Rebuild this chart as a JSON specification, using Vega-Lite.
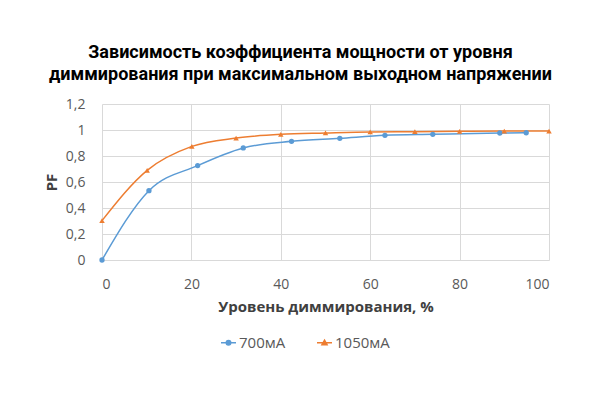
{
  "$schema": "https://vega.github.io/schema/vega-lite/v6.json",
  "width": 447,
  "height": 156,
  "autosize": {"type": "none"},
  "padding": {"left": 102, "top": 104, "right": 51, "bottom": 140},
  "background": "white",
  "title": {
    "text": ["Зависимость коэффициента мощности от уровня", "диммирования при максимальном выходном напряжении"],
    "font": "Roboto",
    "fontSize": 18,
    "fontWeight": "bold",
    "color": "#000000",
    "anchor": "middle",
    "dx": -25,
    "lineHeight": 22,
    "offset": 13
  },
  "config": {
    "view": {"stroke": null},
    "axis": {
      "labelFont": "Open Sans",
      "labelFontSize": 14,
      "labelColor": "#595959",
      "titleFont": "Open Sans",
      "titleFontSize": 15,
      "titleFontWeight": "bold",
      "titleColor": "#404040",
      "gridColor": "#D9D9D9",
      "gridWidth": 1,
      "domain": false,
      "ticks": false,
      "tickSize": 0
    },
    "legend": {
      "orient": "none",
      "direction": "horizontal",
      "legendX": 118,
      "legendY": 230,
      "labelFont": "Open Sans",
      "labelFontSize": 15,
      "labelColor": "#595959",
      "columnPadding": 28,
      "labelOffset": 2,
      "symbolSize": 225
    }
  },
  "data": {
    "values": [
      {"level": 0, "pf": 0.0, "series": "700мА"},
      {"level": 10.5, "pf": 0.533, "series": "700мА"},
      {"level": 21.4, "pf": 0.726, "series": "700мА"},
      {"level": 31.6, "pf": 0.862, "series": "700мА"},
      {"level": 42.4, "pf": 0.913, "series": "700мА"},
      {"level": 53.2, "pf": 0.936, "series": "700мА"},
      {"level": 63.3, "pf": 0.959, "series": "700мА"},
      {"level": 74, "pf": 0.967, "series": "700мА"},
      {"level": 89, "pf": 0.977, "series": "700мА"},
      {"level": 94.9, "pf": 0.979, "series": "700мА"},
      {"level": 0, "pf": 0.303, "series": "1050мА"},
      {"level": 10.1, "pf": 0.69, "series": "1050мА"},
      {"level": 20.1, "pf": 0.874, "series": "1050мА"},
      {"level": 30, "pf": 0.938, "series": "1050мА"},
      {"level": 40, "pf": 0.967, "series": "1050мА"},
      {"level": 50, "pf": 0.977, "series": "1050мА"},
      {"level": 60, "pf": 0.985, "series": "1050мА"},
      {"level": 70, "pf": 0.987, "series": "1050мА"},
      {"level": 80, "pf": 0.99, "series": "1050мА"},
      {"level": 90, "pf": 0.992, "series": "1050мА"},
      {"level": 100, "pf": 0.992, "series": "1050мА"}
    ]
  },
  "encoding": {
    "x": {
      "field": "level",
      "type": "quantitative",
      "scale": {"domain": [0, 100], "nice": false, "zero": false},
      "axis": {
        "values": [0, 20, 40, 60, 80, 100],
        "title": "Уровень диммирования, %",
        "labelPadding": 17,
        "titlePadding": 8
      }
    },
    "y": {
      "field": "pf",
      "type": "quantitative",
      "scale": {"domain": [0, 1.2], "nice": false},
      "axis": {
        "values": [0, 0.2, 0.4, 0.6, 0.8, 1, 1.2],
        "labelExpr": "replace(format(datum.value, '.1~f'), '.', ',')",
        "title": "PF",
        "labelPadding": 17,
        "titlePadding": 6
      }
    },
    "color": {
      "field": "series",
      "type": "nominal",
      "sort": ["700мА", "1050мА"],
      "scale": {"domain": ["700мА", "1050мА"], "range": ["#5B9BD5", "#ED7D31"]},
      "legend": {
        "title": null,
        "encode": {
          "symbols": {
            "update": {
              "shape": {"signal": "datum.value === '700мА' ? 'M-1,0H1M-0.3,0A0.3,0.3,0,1,0,0.3,0A0.3,0.3,0,1,0,-0.3,0Z' : 'M-1,0H1M0,-0.34L0.34,0.26L-0.34,0.26Z'"},
              "stroke": {"signal": "scale('color', datum.value)"},
              "fill": {"signal": "scale('color', datum.value)"},
              "strokeWidth": {"value": 1.5},
              "size": {"value": 225},
              "opacity": {"value": 1}
            }
          }
        }
      }
    }
  },
  "layer": [
    {
      "mark": {"type": "line", "interpolate": "monotone", "strokeWidth": 1.5}
    },
    {
      "transform": [{"filter": "datum.series === '700мА'"}],
      "mark": {"type": "point", "filled": true, "opacity": 1, "size": 28, "shape": "circle"}
    },
    {
      "transform": [{"filter": "datum.series === '1050мА'"}],
      "mark": {"type": "point", "filled": true, "opacity": 1, "size": 30, "shape": "triangle-up"}
    }
  ]
}
